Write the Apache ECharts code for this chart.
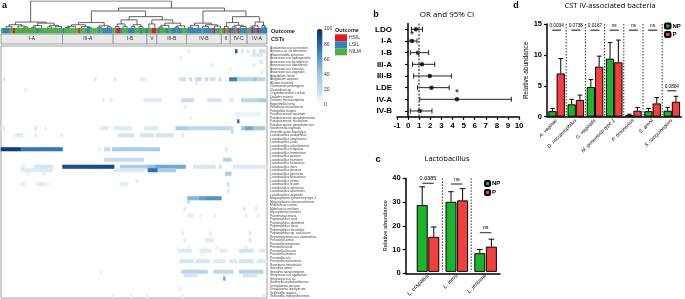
<!DOCTYPE html>
<html>
<head>
<meta charset="utf-8">
<script src="https://cdn.jsdelivr.net/npm/echarts@6/dist/echarts.min.js"></script>
<style>
html, body { margin: 0; padding: 0; background: #fff; }
#char { width: 685px; height: 299px; }
</style>
</head>
<body>
<div id="char"></div>
<script>
// ---- panel a: heatmap of species abundance per sample ----
const nCols = 134;
const species = [
  'Acidaminococcus intestini', 'Aerococcus christensenii', 'Alloprevotella tannerae', 'Anaerococcus hydrogenalis',
  'Anaerococcus lactolyticus', 'Anaerococcus obesiensis', 'Anaerococcus octavius', 'Anaerococcus vaginalis',
  'Atopobium rimae', 'Atopobium vaginae', 'Blautia hansenii', 'Clostridium perfringens', 'Clostridium sp.',
  'Cryptobacterium curtum', 'Dialister invisus', 'Dialister micraerophilus', 'Eggerthella lenta',
  'Fenollaria massiliensis', 'Finegoldia magna', 'Fusobacterium equinum', 'Fusobacterium gonidiaformans',
  'Fusobacterium nucleatum', 'Fusobacterium periodonticum', 'Gardnerella vaginalis', 'Gemella asaccharolytica',
  'Lactobacillus acidophilus', 'Lactobacillus amylovorus', 'Lactobacillus casei', 'Lactobacillus coleohominis',
  'Lactobacillus crispatus', 'Lactobacillus fermentum', 'Lactobacillus gasseri', 'Lactobacillus hamsteri',
  'Lactobacillus helveticus', 'Lactobacillus iners', 'Lactobacillus jensenii', 'Lactobacillus johnsonii',
  'Lactobacillus kitasatonis', 'Lactobacillus pontis', 'Lactobacillus reuteri', 'Lactobacillus salivarius',
  'Lactobacillus ultunensis', 'Lactobacillus vaginalis', 'Megasphaera genomosp type 1', 'Megasphaera micronuciformis',
  'Mobiluncus curtisii', 'Mobiluncus mulieris', 'Mycoplasma hominis', 'Parvimonas micra', 'Peptoniphilus coxii',
  'Peptoniphilus duerdenii', 'Peptoniphilus harei', 'Peptoniphilus lacrimalis', 'Peptoniphilus sp. oral taxon',
  'Peptostreptococcus anaerobius', 'Prevotella amnii', 'Prevotella bergensis', 'Prevotella bivia',
  'Prevotella buccae', 'Prevotella disiens', 'Prevotella oris', 'Prevotella timonensis', 'Roseburia intestinalis',
  'Sneathia amnii', 'Sneathia sanguinegens', 'Streptococcus agalactiae', 'Streptococcus sp.',
  'Sutterella wadsworthensis', 'Ureaplasma parvum', 'Ureaplasma urealyticum', 'Veillonella atypica',
  'Veillonella montpellierensis'
];
const cstNames = ['I-A', 'III-A', 'I-B', 'V', 'III-B', 'IV-B', 'II', 'IV-C', 'IV-A'];
const cstStart = [0, 31, 56.5, 73.5, 78.5, 93.5, 111, 115.5, 124];
const cstEnd = [31, 56.5, 73.5, 78.5, 93.5, 111, 115.5, 124, 134];
// outcome per sample column: HSIL / LSIL, the rest NILM
const hsilCols = [6, 39, 58, 59, 76, 77, 107, 112, 115, 119, 126, 129];
const lsilCols = [1, 2, 3, 18, 31, 43, 44, 49, 51, 52, 53, 54, 55, 60, 64, 65, 66, 70, 73, 79, 83, 86, 87, 89, 90,
  94, 95, 96, 97, 98, 99, 100, 102, 103, 104, 105, 106, 109, 114, 116, 117, 120, 121, 122, 123, 127, 128,
  130, 131, 132, 133];
// [row, first column, last column, relative abundance]
const abundanceRuns = [
  [1, 94, 94, 10], [1, 118, 118, 85], [1, 121, 121, 18], [1, 124, 124, 15], [1, 127, 127, 20], [1, 130, 132, 18],
  [2, 126, 131, 12], [3, 90, 90, 10], [4, 130, 131, 12], [5, 106, 106, 10], [5, 127, 127, 12],
  [6, 115, 115, 10], [7, 131, 131, 10],
  [9, 1, 1, 15], [9, 47, 47, 12], [9, 57, 57, 15], [9, 70, 72, 10], [9, 90, 92, 18], [9, 95, 95, 25],
  [9, 98, 100, 20], [9, 103, 103, 30], [9, 105, 107, 15], [9, 110, 110, 20], [9, 115, 118, 70],
  [9, 119, 124, 30], [9, 125, 126, 25], [9, 127, 128, 40], [9, 129, 132, 25],
  [10, 98, 98, 10], [12, 12, 12, 10],
  [15, 51, 51, 10], [15, 55, 55, 10], [15, 72, 80, 12], [15, 91, 96, 20], [15, 104, 110, 15],
  [15, 115, 116, 12], [15, 121, 129, 25], [15, 130, 133, 35],
  [17, 92, 92, 10], [19, 118, 130, 8], [20, 95, 95, 8], [21, 119, 119, 75],
  [23, 0, 1, 12], [23, 17, 17, 15], [23, 22, 22, 8], [23, 50, 53, 12], [23, 57, 65, 12], [23, 72, 78, 12],
  [23, 88, 93, 35], [23, 94, 115, 25], [23, 116, 116, 15], [23, 121, 122, 40], [23, 123, 126, 55],
  [23, 127, 132, 40],
  [24, 116, 116, 25],
  [25, 7, 10, 12], [25, 17, 17, 10], [25, 30, 30, 10], [25, 59, 66, 15], [25, 70, 76, 15], [25, 78, 86, 15],
  [25, 91, 91, 12],
  [29, 0, 9, 95], [29, 10, 30, 75], [29, 49, 49, 12], [29, 52, 54, 20], [29, 56, 79, 35], [29, 113, 113, 15],
  [32, 52, 71, 20], [32, 112, 115, 30],
  [34, 10, 11, 10], [34, 17, 25, 15], [34, 31, 56, 90], [34, 60, 73, 35], [34, 74, 77, 45], [34, 78, 92, 55],
  [34, 97, 107, 15], [34, 110, 110, 20], [34, 117, 133, 12],
  [35, 10, 25, 12], [35, 57, 71, 12], [35, 74, 78, 75], [35, 79, 87, 35],
  [36, 13, 13, 10], [36, 21, 21, 10], [36, 113, 115, 35],
  [38, 68, 68, 10],
  [39, 10, 11, 10], [39, 18, 21, 12], [39, 23, 23, 10], [39, 60, 63, 10], [39, 114, 114, 20],
  [41, 114, 114, 15],
  [43, 94, 99, 50], [43, 100, 102, 60], [43, 103, 110, 65], [44, 94, 94, 25],
  [46, 92, 92, 12], [46, 122, 122, 15], [46, 128, 128, 12],
  [48, 94, 96, 10], [48, 100, 100, 8], [48, 107, 107, 10], [48, 123, 123, 10], [48, 129, 129, 10],
  [53, 91, 91, 10], [53, 105, 105, 10], [53, 125, 125, 12],
  [55, 92, 92, 12], [55, 103, 106, 12], [55, 125, 125, 15],
  [57, 94, 94, 8], [57, 108, 108, 8], [57, 123, 123, 10],
  [58, 89, 95, 12], [58, 100, 105, 12], [58, 110, 113, 10], [58, 120, 126, 15], [58, 130, 132, 12],
  [59, 101, 101, 8],
  [61, 90, 96, 15], [61, 98, 104, 15], [61, 107, 112, 12], [61, 115, 118, 12], [61, 120, 126, 15],
  [61, 129, 133, 12],
  [64, 50, 50, 10], [64, 91, 103, 30], [64, 107, 116, 25], [64, 120, 131, 30],
  [65, 92, 98, 15], [65, 112, 112, 12], [65, 122, 128, 15],
  [66, 112, 112, 55], [69, 90, 90, 10],
  [71, 56, 56, 10], [71, 65, 65, 10], [71, 73, 73, 8], [71, 91, 91, 8], [71, 132, 132, 15]
];
// dendrogram: [height, left, right], a bare number is a leaf column
const dendroTree =
  [1.0,
    [0.22,
      [0.12, [0.05, 2, 5], [0.07, 8, [0.03, 11, 13]]],
      [0.18, [0.09, [0.03, 15, 17], 20], [0.1, [0.04, 23, 25], [0.05, 27, 30]]]],
    [0.74,
      [0.63,
        [0.2,
          [0.12, [0.06, [0.02, 32, 34], 37], [0.05, 40, [0.02, 43, 45]]],
          [0.08, [0.03, 48, 50], [0.04, 53, 55]]],
        [0.42,
          [0.3, [0.15, [0.05, 57, 59], [0.06, 61, 63]], [0.12, [0.05, 65, 67], [0.05, 69, 71]]],
          [0.3, [0.15, 74, 77], [0.18, [0.1, [0.03, 79, 81], 84], [0.08, [0.03, 87, 89], 92]]]]],
      [0.63,
        [0.18, [0.1, [0.03, 94, 96], 99], [0.12, [0.06, 101, 104], [0.07, 107, 110]]],
        [0.42,
          [0.2, [0.06, 112, 114], [0.1, [0.04, 116, 118], [0.05, 120, 123]]],
          [0.22, [0.08, [0.03, 125, 127], 129], [0.09, 131, [0.03, 132, 133]]]]]]];

// ---- panel b: odds ratios ----
const orCats = ['LDO', 'I-A', 'I-B', 'III-A', 'III-B', 'LDE', 'IV-A', 'IV-B'];
const orValue = [0.7, 0.35, 0.9, 1.25, 1.95, 2.1, 4.4, 1.05];
const orLow = [0.3, 0.05, 0.2, 0.4, 0.5, 0.85, 1.05, 0.2];
const orHigh = [1.3, 0.8, 1.85, 2.4, 3.9, 3.7, 9.3, 2.15];
const orStar = [false, true, false, false, false, false, true, false];

// ---- panel c: Lactobacillus ----
const lactoCats = ['L. crispatus', 'L. iners', 'L. jensenii'];
const lactoNP = [28.6, 30.0, 8.0];
const lactoNPTop = [36.4, 34.3, 9.6];
const lactoP = [15.0, 30.6, 10.8];
const lactoPTop = [19.2, 35.6, 14.0];
const lactoSig = ['0.0385', 'ns', 'ns'];
const lactoSigAt = [37.9, 37.6, 16.8];

// ---- panel d: CST IV-associated bacteria ----
const ivCats = ['A. vaginae', 'D. micraerophilus', 'G. vaginalis', 'M. genomosp type 1', 'P. timonensis', 'S. amnii', 'S. sanguinegens'];
const ivNP = [0.9, 2.0, 4.8, 9.4, 0.27, 0.9, 0.97];
const ivNPTop = [1.35, 2.8, 6.0, 12.0, 0.4, 1.35, 1.5];
const ivP = [7.0, 2.7, 8.1, 8.8, 0.97, 2.15, 2.42];
const ivPTop = [9.4, 3.5, 9.8, 12.4, 1.5, 3.1, 3.3];
const ivSig = ['0.0034', '0.0738', '0.0167', 'ns', 'ns', 'ns', '0.0804'];
const ivSigAt = [14.0, 14.0, 14.0, 14.0, 14.0, 14.0, 4.2];

const outcomeColors = ['#e41a1c', '#3182bd', '#4daf4a'];
const green = '#1db32b';
const red = '#f2403f';
const arial = 'Liberation Sans, Arial, sans-serif';
const titleFont = 'Open Sans, Liberation Sans, sans-serif';

// build data for library series
const heatData = [];
abundanceRuns.forEach(([r, c1, c2, v]) => {
  for (let c = c1; c <= c2; c++) heatData.push([c, r, v]);
});
const outcomeData = [];
for (let c = 0; c < nCols; c++) {
  outcomeData.push([c, hsilCols.includes(c) ? 0 : (lsilCols.includes(c) ? 1 : 2)]);
}
const cstData = cstNames.map((n, i) => [cstStart[i], cstEnd[i], i]);
const dendroLines = [];
function layoutNode(node) {
  if (typeof node === 'number') return { x: node + 0.5, h: 0 };
  const l = layoutNode(node[1]);
  const r = layoutNode(node[2]);
  dendroLines.push({ coords: [[l.x, l.h], [l.x, node[0]], [r.x, node[0]], [r.x, r.h]] });
  return { x: (l.x + r.x) / 2, h: node[0] };
}
layoutNode(dendroTree);

function errRender(offset, cap) {
  return function (params, api) {
    const idx = api.value(0);
    const base = api.coord([idx, api.value(1)]);
    const top = api.coord([idx, api.value(2)]);
    const x = base[0] + offset;
    return {
      type: 'group', children: [
        { type: 'line', shape: { x1: x, y1: base[1], x2: x, y2: top[1] }, style: { stroke: '#000', lineWidth: 1 } },
        { type: 'line', shape: { x1: x - cap, y1: top[1], x2: x + cap, y2: top[1] }, style: { stroke: '#000', lineWidth: 1 } }
      ]
    };
  };
}
function sigRender(labels, halfW, color, fs) {
  return function (params, api) {
    const p = api.coord([api.value(0), api.value(1)]);
    return {
      type: 'group', children: [
        { type: 'line', shape: { x1: p[0] - halfW, y1: p[1], x2: p[0] + halfW, y2: p[1] }, style: { stroke: color, lineWidth: 1.3 } },
        { type: 'text', style: { x: p[0], y: p[1] - 2, text: labels[params.dataIndex], textAlign: 'center', textVerticalAlign: 'bottom', fontSize: fs, fontFamily: arial, fill: '#000' } }
      ]
    };
  };
}
// dotted separators between neighbouring category groups
function sepRender(top) {
  return function (params, api) {
    const idx = api.value(0);
    const a = api.coord([idx, top]);
    const b = api.coord([idx, 0]);
    const x = a[0] + api.size([1, 0])[0] / 2;
    return {
      type: 'line', shape: { x1: x, y1: a[1], x2: x, y2: b[1] },
      style: { stroke: '#333', lineWidth: 1, lineDash: [1.5, 1.5] }
    };
  };
}

const hiddenValue = (gi, min, max) => ({ type: 'value', gridIndex: gi, min: min, max: max, show: false });
const boldAxis = { fontSize: 8, fontWeight: 'bold', fontFamily: arial, color: '#000' };
const blackLine = { show: true, lineStyle: { color: '#000', width: 1.5 } };
const blackTick = { show: true, length: 3, lineStyle: { color: '#000', width: 1.2 } };

const charEch = echarts.init(document.getElementById('char'));
const option = {
  animation: false,
  backgroundColor: '#fff',
  grid: [
    { left: 1, top: 1, width: 266, height: 27 },
    { left: 1, top: 28, width: 266, height: 5.5 },
    { left: 1, top: 34, width: 266, height: 10 },
    { left: 1, top: 46, width: 266, height: 252, show: true, borderColor: '#a0a0a0', borderWidth: 1 },
    { left: 317, top: 29, width: 5.5, height: 76 },
    { left: 397, top: 23.5, width: 122.1, height: 93.3 },
    { left: 405.7, top: 178.4, width: 94.3, height: 94.9 },
    { left: 413.6, top: 178.4, width: 86.4, height: 94.9 },
    { left: 547, top: 24, width: 134.4, height: 92.7 }
  ],
  xAxis: [
    hiddenValue(0, 0, nCols),
    hiddenValue(1, 0, nCols),
    hiddenValue(2, 0, nCols),
    { type: 'category', gridIndex: 3, data: Array.from({ length: nCols }, (_, i) => String(i)), show: false },
    hiddenValue(4, 0, 1),
    {
      type: 'value', gridIndex: 5, min: -1, max: 10, interval: 1,
      axisLine: blackLine, axisTick: blackTick, splitLine: { show: false },
      axisLabel: Object.assign({ margin: 5 }, boldAxis)
    },
    {
      type: 'value', gridIndex: 6, min: 0, max: 1,
      axisLine: blackLine, axisTick: { show: false }, axisLabel: { show: false }, splitLine: { show: false }
    },
    {
      type: 'category', gridIndex: 7, data: lactoCats,
      axisLine: { show: false }, axisTick: { show: false }, splitLine: { show: false },
      axisLabel: { rotate: 45, interval: 0, fontSize: 5.5, fontStyle: 'italic', fontFamily: arial, color: '#000', margin: 3 }
    },
    {
      type: 'category', gridIndex: 8, data: ivCats,
      axisLine: blackLine, axisTick: { show: false }, splitLine: { show: false },
      axisLabel: { rotate: 45, interval: 0, fontSize: 5, fontStyle: 'italic', fontFamily: arial, color: '#000', margin: 3 }
    }
  ],
  yAxis: [
    hiddenValue(0, 0, 1),
    hiddenValue(1, 0, 1),
    hiddenValue(2, 0, 1),
    {
      type: 'category', gridIndex: 3, data: species, inverse: true, position: 'right',
      axisLine: { show: false }, axisTick: { show: false },
      axisLabel: { interval: 0, fontSize: 3.3, fontFamily: arial, color: '#444', margin: 3 }
    },
    {
      type: 'value', gridIndex: 4, min: 0, max: 100, interval: 20, position: 'right',
      axisLine: { show: false }, axisTick: { show: false }, splitLine: { show: false },
      axisLabel: { fontSize: 5, fontFamily: arial, color: '#333', margin: 1.5 }
    },
    {
      type: 'category', gridIndex: 5, data: orCats, inverse: true,
      axisLine: blackLine, axisTick: Object.assign({ alignWithLabel: true, interval: 0 }, blackTick),
      axisLabel: Object.assign({ margin: 5, interval: 0 }, boldAxis)
    },
    {
      type: 'value', gridIndex: 6, min: 0, max: 40, interval: 10,
      axisLine: blackLine, axisTick: blackTick, splitLine: { show: false },
      axisLabel: Object.assign({ margin: 5 }, boldAxis, { fontSize: 7.5 }),
      name: 'Relative abundance', nameLocation: 'middle', nameGap: 12,
      nameTextStyle: { fontSize: 5.8, fontFamily: arial, color: '#000' }
    },
    hiddenValue(7, 0, 40),
    {
      type: 'value', gridIndex: 8, min: 0, max: 15, interval: 5,
      axisLine: blackLine, axisTick: blackTick, splitLine: { show: false },
      axisLabel: Object.assign({ margin: 5 }, boldAxis, { fontSize: 7.5 }),
      name: 'Relative abundance', nameLocation: 'middle', nameGap: 14,
      nameTextStyle: { fontSize: 6.5, fontFamily: arial, color: '#000' }
    }
  ],
  visualMap: {
    type: 'continuous', seriesIndex: 3, min: 0, max: 100, calculable: false,
    left: 317, top: 29, itemWidth: 5.5, itemHeight: 76, padding: 0, text: null,
    inRange: { color: ['#ffffff', '#c6dbef', '#9ecae1', '#5a9fd0', '#2166ac', '#08306b'] }
  },
  legend: [
    {
      data: ['NP', 'P'], left: 484, top: 180, orient: 'vertical', padding: 0, itemGap: 2,
      itemWidth: 5, itemHeight: 5, selectedMode: false,
      textStyle: { fontSize: 6, fontWeight: 'bold', fontFamily: arial, color: '#000', padding: [0, 0, 0, -3] }
    },
    {
      data: ['NP', 'P'], left: 664, top: 22.5, orient: 'vertical', padding: 0, itemGap: 1.5,
      itemWidth: 5.5, itemHeight: 5, selectedMode: false,
      textStyle: { fontSize: 6, fontWeight: 'bold', fontFamily: arial, color: '#000', padding: [0, 0, 0, -3] }
    }
  ],
  series: [
    {
      type: 'lines', coordinateSystem: 'cartesian2d', xAxisIndex: 0, yAxisIndex: 0, polyline: true,
      silent: true, data: dendroLines, lineStyle: { color: '#3a3a3a', width: 0.8, opacity: 1 }
    },
    {
      type: 'custom', xAxisIndex: 1, yAxisIndex: 1, silent: true, data: outcomeData,
      renderItem: function (params, api) {
        const p0 = api.coord([api.value(0), 0]);
        const p1 = api.coord([api.value(0) + 1, 1]);
        return {
          type: 'rect', shape: { x: p0[0], y: p1[1], width: p1[0] - p0[0] + 0.3, height: p0[1] - p1[1] },
          style: { fill: outcomeColors[api.value(1)] }
        };
      }
    },
    {
      type: 'custom', xAxisIndex: 2, yAxisIndex: 2, silent: true, data: cstData,
      renderItem: function (params, api) {
        const p0 = api.coord([api.value(0), 0]);
        const p1 = api.coord([api.value(1), 1]);
        return {
          type: 'group', children: [
            { type: 'rect', shape: { x: p0[0], y: p1[1], width: p1[0] - p0[0], height: p0[1] - p1[1] }, style: { fill: '#e9e9e9', stroke: '#8c8c8c', lineWidth: 0.8 } },
            { type: 'text', style: { x: (p0[0] + p1[0]) / 2, y: (p0[1] + p1[1]) / 2, text: cstNames[api.value(2)], textAlign: 'center', textVerticalAlign: 'middle', fontSize: 5, fontFamily: arial, fill: '#333' } }
          ]
        };
      }
    },
    {
      type: 'heatmap', xAxisIndex: 3, yAxisIndex: 3, data: heatData, silent: true,
      itemStyle: { borderWidth: 0 }
    },
    {
      type: 'custom', xAxisIndex: 5, yAxisIndex: 5, silent: true,
      data: orCats.map((c, i) => [orLow[i], orHigh[i], i]),
      renderItem: function (params, api) {
        const a = api.coord([api.value(0), api.value(2)]);
        const b = api.coord([api.value(1), api.value(2)]);
        const st = { stroke: '#222', lineWidth: 1 };
        return {
          type: 'group', children: [
            { type: 'line', shape: { x1: a[0], y1: a[1], x2: b[0], y2: b[1] }, style: st },
            { type: 'line', shape: { x1: a[0], y1: a[1] - 2.5, x2: a[0], y2: a[1] + 2.5 }, style: st },
            { type: 'line', shape: { x1: b[0], y1: b[1] - 2.5, x2: b[0], y2: b[1] + 2.5 }, style: st }
          ]
        };
      }
    },
    {
      type: 'scatter', xAxisIndex: 5, yAxisIndex: 5, symbolSize: 4.5, silent: true,
      itemStyle: { color: '#000' },
      data: orCats.map((c, i) => ({
        value: [orValue[i], i],
        label: { show: orStar[i], formatter: '*', position: 'top', distance: 0, fontSize: 9, fontWeight: 'bold', color: '#000' }
      })),
      markLine: {
        silent: true, symbol: 'none', label: { show: false },
        lineStyle: { type: [2, 1.5], color: '#666', width: 1.6 },
        data: [{ xAxis: 1 }]
      },
      z: 3
    },
    {
      name: 'NP', type: 'bar', xAxisIndex: 7, yAxisIndex: 7, data: lactoNP, barWidth: 11, barGap: '5%',
      itemStyle: { color: green, borderColor: '#000', borderWidth: 1 }, silent: true
    },
    {
      name: 'P', type: 'bar', xAxisIndex: 7, yAxisIndex: 7, data: lactoP, barWidth: 11, barGap: '5%',
      itemStyle: { color: red, borderColor: '#000', borderWidth: 1 }, silent: true
    },
    {
      type: 'custom', xAxisIndex: 7, yAxisIndex: 7, silent: true, z: 3,
      data: lactoNP.map((v, i) => [i, v, lactoNPTop[i]]), renderItem: errRender(-5.8, 2.8)
    },
    {
      type: 'custom', xAxisIndex: 7, yAxisIndex: 7, silent: true, z: 3,
      data: lactoP.map((v, i) => [i, v, lactoPTop[i]]), renderItem: errRender(5.8, 2.8)
    },
    {
      type: 'custom', xAxisIndex: 7, yAxisIndex: 7, silent: true, z: 3,
      data: lactoSigAt.map((v, i) => [i, v]), renderItem: sigRender(lactoSig, 5.8, '#555', 5.5)
    },
    {
      type: 'custom', xAxisIndex: 7, yAxisIndex: 7, silent: true, z: 1,
      data: lactoCats.slice(0, -1).map((c, i) => [i]), renderItem: sepRender(40)
    },
    {
      name: 'NP', type: 'bar', xAxisIndex: 8, yAxisIndex: 8, data: ivNP, barWidth: 8.3, barGap: '0%',
      itemStyle: { color: green, borderColor: '#000', borderWidth: 1 }, silent: true
    },
    {
      name: 'P', type: 'bar', xAxisIndex: 8, yAxisIndex: 8, data: ivP, barWidth: 8.3, barGap: '0%',
      itemStyle: { color: red, borderColor: '#000', borderWidth: 1 }, silent: true
    },
    {
      type: 'custom', xAxisIndex: 8, yAxisIndex: 8, silent: true, z: 3,
      data: ivNP.map((v, i) => [i, v, ivNPTop[i]]), renderItem: errRender(-4.15, 2.3)
    },
    {
      type: 'custom', xAxisIndex: 8, yAxisIndex: 8, silent: true, z: 3,
      data: ivP.map((v, i) => [i, v, ivPTop[i]]), renderItem: errRender(4.15, 2.3)
    },
    {
      type: 'custom', xAxisIndex: 8, yAxisIndex: 8, silent: true, z: 3,
      data: ivSigAt.map((v, i) => [i, v]), renderItem: sigRender(ivSig, 4.5, '#444', 4.7)
    },
    {
      type: 'custom', xAxisIndex: 8, yAxisIndex: 8, silent: true, z: 1,
      data: ivCats.slice(0, -1).map((c, i) => [i]), renderItem: sepRender(15)
    }
  ],
  graphic: [
    { type: 'text', x: 2, y: 1, style: { text: 'a', font: 'bold 9px ' + arial, fill: '#000' } },
    { type: 'text', x: 271, y: 31, style: { text: 'Outcome', font: 'bold 5.5px ' + arial, fill: '#222', textVerticalAlign: 'middle' } },
    { type: 'text', x: 271, y: 39.5, style: { text: 'CSTs', font: 'bold 5.5px ' + arial, fill: '#222', textVerticalAlign: 'middle' } },
    { type: 'text', x: 335, y: 30.5, style: { text: 'Outcome', font: 'bold 5.5px ' + arial, fill: '#222', textVerticalAlign: 'middle' } },
    { type: 'rect', shape: { x: 335, y: 34.3, width: 12, height: 7 }, style: { fill: outcomeColors[0] } },
    { type: 'rect', shape: { x: 335, y: 41.3, width: 12, height: 7 }, style: { fill: outcomeColors[1] } },
    { type: 'rect', shape: { x: 335, y: 48.3, width: 12, height: 7 }, style: { fill: outcomeColors[2] } },
    { type: 'text', x: 349, y: 37.8, style: { text: 'HSIL', font: '5px ' + arial, fill: '#333', textVerticalAlign: 'middle' } },
    { type: 'text', x: 349, y: 44.8, style: { text: 'LSIL', font: '5px ' + arial, fill: '#333', textVerticalAlign: 'middle' } },
    { type: 'text', x: 349, y: 51.8, style: { text: 'NILM', font: '5px ' + arial, fill: '#333', textVerticalAlign: 'middle' } },
    { type: 'text', x: 376, y: 15, style: { text: 'b', font: 'bold 9px ' + arial, fill: '#000', textAlign: 'center', textVerticalAlign: 'middle' } },
    { type: 'text', x: 447, y: 15, style: { text: 'OR and 95% CI', font: '8px ' + titleFont, fill: '#000', textAlign: 'center', textVerticalAlign: 'middle' } },
    { type: 'text', x: 378, y: 160, style: { text: 'c', font: 'bold 9px ' + arial, fill: '#000', textAlign: 'center', textVerticalAlign: 'middle' } },
    { type: 'text', x: 447, y: 159, style: { text: 'Lactobacillus', font: '7.5px ' + titleFont, fill: '#000', textAlign: 'center', textVerticalAlign: 'middle' } },
    { type: 'text', x: 516, y: 5.5, style: { text: 'd', font: 'bold 9px ' + arial, fill: '#000', textAlign: 'center', textVerticalAlign: 'middle' } },
    { type: 'text', x: 610, y: 5.5, style: { text: 'CST IV-associated bacteria', font: '7.5px ' + titleFont, fill: '#000', textAlign: 'center', textVerticalAlign: 'middle' } }
  ]
};
charEch.setOption(option, true);
</script>
</body>
</html>
